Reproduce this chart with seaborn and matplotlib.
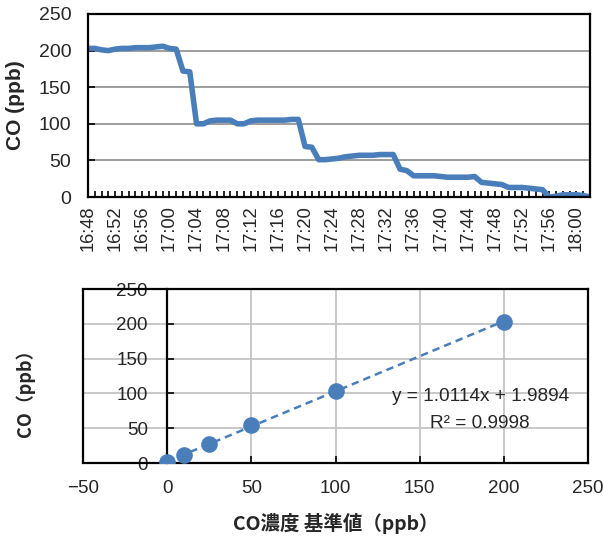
import numpy as np
import pandas as pd
import matplotlib
matplotlib.use('Agg')
import matplotlib.pyplot as plt
import matplotlib.dates as mdates
import seaborn as sns

# time series (1-minute readings, 16:48 - 18:02)
start_time = '2020-01-01 16:48'
co_ppb = [203, 203, 201, 200, 202, 203, 203, 204, 204, 204,
          205, 206, 203, 202, 172, 171, 100, 100, 104, 105,
          105, 105, 100, 100, 104, 105, 105, 105, 105, 105,
          106, 106, 69, 68, 51, 51, 52, 53, 55, 56,
          57, 57, 57, 58, 58, 58, 38, 36, 29, 29,
          29, 29, 28, 27, 27, 27, 27, 28, 20, 19,
          18, 17, 13, 13, 13, 12, 11, 10, 0, 1,
          3, 3, 3, 2, 0]

# calibration points
ref_ppb = [0, 10, 25, 50, 100, 200]
meas_ppb = [1, 12, 27, 54, 104, 203]
eq_text = 'y = 1.0114x + 1.9894'
r2_text = 'R² = 0.9998'

times = pd.date_range(start_time, periods=len(co_ppb), freq='min')
ts = pd.DataFrame({'time': times, 'co': co_ppb})
cal = pd.DataFrame({'ref': ref_ppb, 'meas': meas_ppb})

sns.set_theme(style='white')
plt.rcParams['font.family'] = ['Liberation Sans', 'Noto Sans CJK JP', 'DejaVu Sans']
blue = '#4a7ebb'
jp = ['Noto Sans CJK JP', 'DejaVu Sans']

fig = plt.figure(figsize=(6.03, 5.36), dpi=100)

# ---- top: time series
ax1 = fig.add_axes([88/603, 1-197/536, 502/603, 183/536])
sns.lineplot(data=ts, x='time', y='co', ax=ax1, color=blue, linewidth=4)
ax1.set_ylim(0, 250)
ax1.set_yticks(range(0, 251, 50))
ax1.set_xlim(times[0], times[-1])
ax1.xaxis.set_major_locator(mdates.MinuteLocator(byminute=range(0, 60, 4)))
ax1.xaxis.set_minor_locator(mdates.MinuteLocator())
ax1.xaxis.set_major_formatter(mdates.DateFormatter('%H:%M'))
ax1.yaxis.grid(True, color='#8c8c8c', linewidth=1.2)
ax1.tick_params(axis='x', which='both', direction='in', length=4, width=1.2,
                color='black', bottom=True, labelsize=13.2, labelrotation=90, pad=6)
ax1.tick_params(axis='y', direction='in', length=5, width=1.2, color='black',
                left=True, labelsize=14, pad=12)
for s in ax1.spines.values():
    s.set_color('black')
    s.set_linewidth(1.6)
ax1.set_xlabel('')
ax1.set_ylabel('CO (ppb)', fontsize=15, fontweight='bold')
ax1.yaxis.set_label_coords(-0.126, 0.5)

# ---- bottom: calibration
ax2 = fig.add_axes([83/603, 1-463/536, 505/603, 174/536])
sns.regplot(data=cal, x='ref', y='meas', ax=ax2, ci=None,
            scatter_kws={'s': 120, 'color': blue, 'alpha': 1, 'zorder': 4},
            line_kws={'color': blue, 'linestyle': (0, (3, 2)), 'linewidth': 1.8})
ax2.set_xlim(-50, 250)
ax2.set_ylim(0, 250)
ax2.set_xticks(range(-50, 251, 50))
ax2.set_yticks(range(0, 251, 50))
ax2.set_xticklabels(['\u221250', '0', '50', '100', '150', '200', '250'])
ax2.grid(True, color='#c4c4c4', linewidth=1.3)
ax2.set_axisbelow(True)
for s in ax2.spines.values():
    s.set_color('black')
    s.set_linewidth(1.6)
ax2.spines['left'].set_position(('data', 0))
ax2.axvline(-50, color='black', linewidth=1.6, clip_on=False, zorder=3)
ax2.tick_params(axis='x', direction='in', length=5, width=1.2, color='black',
                bottom=True, labelsize=13.5, pad=12)
ax2.tick_params(axis='y', direction='in', length=5, width=1.2, color='black',
                left=True, labelsize=13.5, pad=14)
ax2.text(186, 95, eq_text, ha='center', va='center', fontsize=13.7)
ax2.text(186, 57, r2_text, ha='center', va='center', fontsize=13.7)
ax2.set_xlabel('CO濃度 基準値（ppb）', fontsize=14, fontweight='bold', family=jp)
ax2.xaxis.set_label_coords(0.5, -0.285)
ax2.set_ylabel('CO（ppb）', fontsize=13, fontweight='bold', family=jp)
ax2.yaxis.set_label_coords(-0.095, 0.425)

fig.savefig('out.png', dpi=100)
